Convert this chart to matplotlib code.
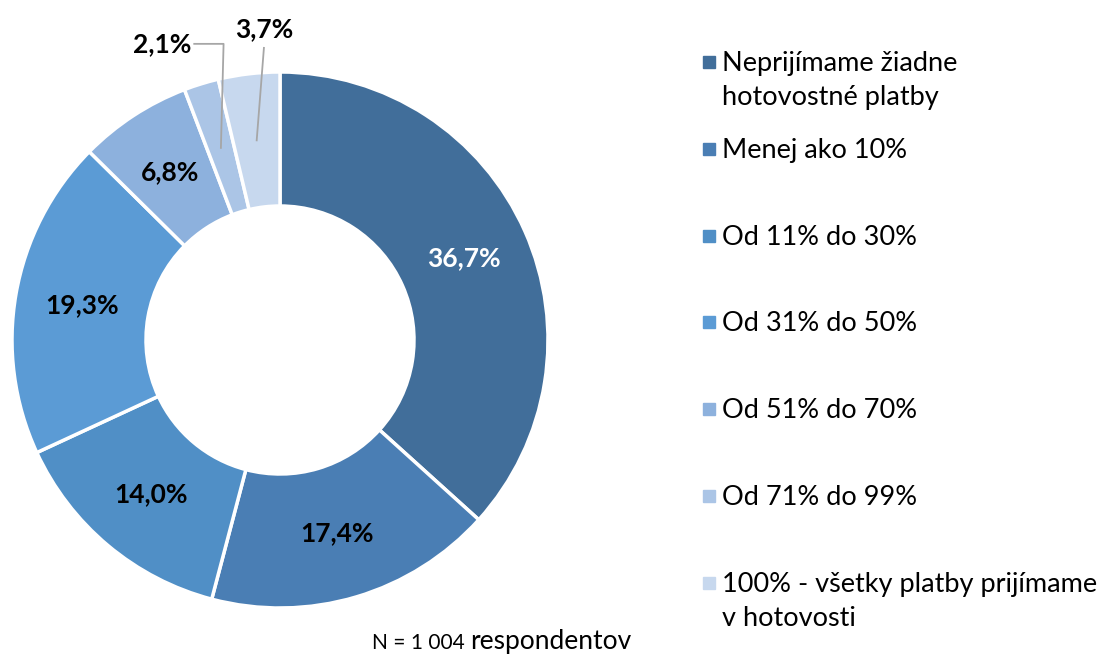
import numpy as np
import matplotlib
matplotlib.use("Agg")
import matplotlib.pyplot as plt

plt.rcParams['font.family'] = ['Lato', 'DejaVu Sans']

categories = [
    'Neprijímame žiadne\nhotovostné platby',
    'Menej ako 10%',
    'Od 11% do 30%',
    'Od 31% do 50%',
    'Od 51% do 70%',
    'Od 71% do 99%',
    '100% - všetky platby prijímame\nv hotovosti',
]
shares = [36.7, 17.4, 14.0, 19.3, 6.8, 2.1, 3.7]
colors = ['#416e9a', '#4a7eb4', '#508fc6', '#5b9bd5', '#8db1dd', '#abc5e6', '#c7d8ee']
label_colors = ['white', 'black', 'black', 'black', 'black', 'black', 'black']
# small slices get their labels outside, joined by a leader line
outside_labels = {5: (-0.44, 1.105), 6: (-0.06, 1.16)}

fig = plt.figure(figsize=(10.98, 6.57), dpi=100)
ax = fig.add_axes([12 / 1098, 49 / 657, 536 / 1098, 536 / 657])

wedges, _ = ax.pie(shares, colors=colors, startangle=90, counterclock=False, radius=1,
                   wedgeprops=dict(width=0.5, edgecolor='white', linewidth=2.5))
ax.set_xlim(-1, 1)
ax.set_ylim(-1, 1)
ax.set_aspect('equal')
ax.axis('off')

for i, (w, val) in enumerate(zip(wedges, shares)):
    mid = np.deg2rad((w.theta1 + w.theta2) / 2)
    px, py = 0.75 * np.cos(mid), 0.75 * np.sin(mid)
    txt = '{:.1f}%'.format(val).replace('.', ',')
    if i in outside_labels:
        tx, ty = outside_labels[i]
        if i == 5:
            ax.plot([px, px + 0.01, tx + 0.12], [py, ty, ty], color='#a6a6a6', lw=1.3, clip_on=False)
        else:
            ax.plot([px, tx], [py, ty - 0.07], color='#a6a6a6', lw=1.3, clip_on=False)
        ax.text(tx, ty, txt, ha='center', va='center', fontsize=19, fontweight='bold',
                color=label_colors[i], clip_on=False)
    else:
        ax.text(px, py, txt, ha='center', va='center', fontsize=19, fontweight='bold',
                color=label_colors[i])

# legend drawn by hand so the marker sits beside the first line of each entry
for i, (lab, col) in enumerate(zip(categories, colors)):
    y = 1 - (62 + i * 86.8) / 657
    fig.patches.append(plt.Rectangle((703 / 1098, y - 6 / 657), 12 / 1098, 12 / 657,
                                     transform=fig.transFigure, color=col))
    fig.text(722 / 1098, y + 11 / 657, lab, ha='left', va='top', fontsize=19.5,
             linespacing=1.45, color='black')

n_txt = fig.text(372 / 1098, 8 / 657, 'N = 1 004 ', ha='left', va='baseline', fontsize=15)
fig.canvas.draw()
bb = n_txt.get_window_extent()
fig.text(bb.x1 / 1098, 8 / 657, 'respondentov', ha='left', va='baseline', fontsize=19)

fig.savefig('out.png', dpi=100)
